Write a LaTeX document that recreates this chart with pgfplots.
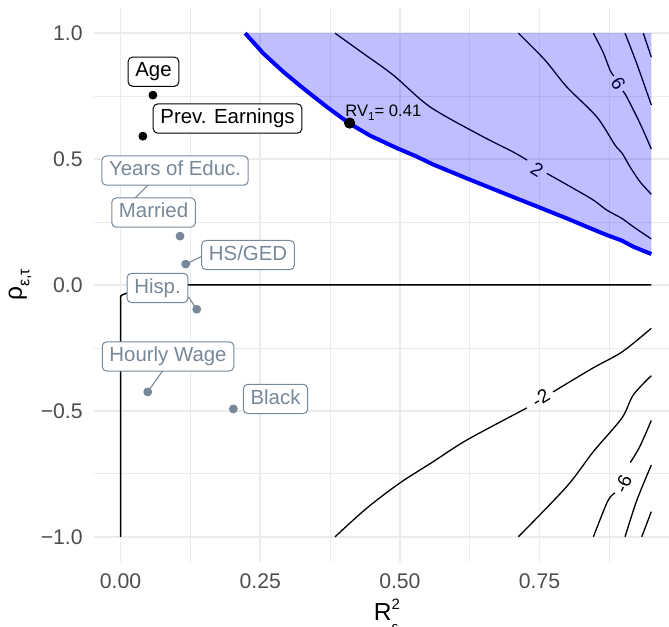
\documentclass[border=0pt]{standalone}
\usepackage{pgfplots}
\pgfplotsset{compat=1.18}
\usepackage{fontspec}
\setmainfont{Liberation Sans}
\definecolor{gridc}{RGB}{235,235,235}
\definecolor{tickc}{RGB}{77,77,77}
\definecolor{slate}{RGB}{119,136,153}
\tikzset{
  lab/.style={draw, fill=white, rounded corners=2.2bp, line width=0.5bp, inner xsep=3.6bp, inner ysep=2.5bp,
     text height=7.4bp, text depth=2.2bp, font=\fontsize{10.2bp}{12bp}\selectfont},
  blab/.style={lab, draw=black, text=black},
  glab/.style={lab, draw=slate, text=slate},
  clab/.style={font=\fontsize{9.5bp}{11bp}\selectfont, inner sep=0pt, text=black}
}
\begin{document}
\begin{tikzpicture}
\begin{axis}[
  set layers,
  at={(0,0)}, anchor=south west,
  scale only axis, width=287.5bp, height=277bp,
  xmin=-0.0475, xmax=0.9817, ymin=-1.1, ymax=1.1,
  axis line style={draw=none}, tick style={draw=none},
  xtick={0,0.25,0.5,0.75}, xticklabels={0.00,0.25,0.50,0.75},
  ytick={-1,-0.5,0,0.5,1}, yticklabels={−1.0,−0.5,0.0,0.5,1.0},
  minor xtick={0.125,0.375,0.625,0.875},
  minor ytick={-0.75,-0.25,0.25,0.75},
  grid=both,
  major grid style={draw=gridc, line width=0.8bp},
  minor grid style={draw=gridc, line width=0.4bp},
  ticklabel style={font=\fontsize{10.6bp}{12bp}\selectfont, text=tickc},
  xticklabel style={inner sep=0pt, anchor=north, yshift=-5.5bp},
  yticklabel style={inner sep=0pt, anchor=east, xshift=-5.5bp},
  xlabel={R\rlap{\raisebox{0.42em}{\fontsize{7.5bp}{8bp}\selectfont 2}}\raisebox{-0.5em}{\fontsize{7.5bp}{8bp}\selectfont ε}},
  xlabel style={at={(axis description cs:0.508,-0.1047)}, anchor=base, inner sep=0pt, font=\fontsize{12.3bp}{14bp}\selectfont},
  ylabel={ρ\raisebox{-0.3em}{\fontsize{8bp}{9bp}\selectfont ε,τ}},
  ylabel style={at={(axis description cs:-0.1287,0.5)}, anchor=center, inner sep=0pt, font=\fontsize{12.3bp}{14bp}\selectfont},
  clip=true,
  every axis plot/.append style={line join=round},
]
% positive contours
\addplot[black, line width=0.65bp, smooth, tension=0.5] coordinates {(0.3839,1.0) (0.4346,0.9194) (0.4883,0.8333) (0.5539,0.7075) (0.6434,0.5952) (0.7031,0.5278) (0.7276,0.4960)};
\addplot[black, line width=0.65bp, smooth, tension=0.5] coordinates {(0.7628,0.4433) (0.8105,0.3837) (0.8463,0.3373) (0.8702,0.2976) (0.8971,0.2647) (0.9178,0.2313) (0.95,0.183)};
\node[clab, rotate=-32] at (axis cs:0.7455,0.4563) {2};
\addplot[black, line width=0.65bp, smooth, tension=0.5] coordinates {(0.7120,1.0) (0.7598,0.8929) (0.7986,0.7869) (0.8523,0.6679) (0.8851,0.5556) (0.8976,0.5238) (0.9119,0.4694) (0.9298,0.4099) (0.95,0.360)};
\addplot[black, line width=0.65bp, smooth, tension=0.5] coordinates {(0.8463,1.0) (0.8636,0.9246) (0.8761,0.8532) (0.8830,0.830)};
\addplot[black, line width=0.65bp, smooth, tension=0.5] coordinates {(0.8990,0.770) (0.9060,0.7472) (0.9298,0.6417) (0.95,0.540)};
\node[clab, rotate=-58] at (axis cs:0.8910,0.8004) {6};
\addplot[black, line width=0.65bp, smooth, tension=0.5] coordinates {(0.9029,1.0) (0.9239,0.8796) (0.95,0.715)};
\addplot[black, line width=0.65bp] coordinates {(0.9357,1.0) (0.95,0.905)};
% negative contours
\addplot[black, line width=0.65bp, smooth, tension=0.5] coordinates {(0.3839,-1.0) (0.4407,-0.8862) (0.5003,-0.7857) (0.5599,-0.7012) (0.6202,-0.6151) (0.7274,-0.4881)};
\addplot[black, line width=0.65bp, smooth, tension=0.5] coordinates {(0.7741,-0.4246) (0.8457,-0.3294) (0.8976,-0.2659) (0.95,-0.172)};
\node[clab, rotate=31] at (axis cs:0.7521,-0.4496) {-2};
\addplot[black, line width=0.65bp, smooth, tension=0.5] coordinates {(0.7120,-1.0) (0.7986,-0.8004) (0.8463,-0.6615) (0.8971,-0.5290) (0.9178,-0.4365) (0.95,-0.360)};
\addplot[black, line width=0.65bp, smooth, tension=0.5] coordinates {(0.8463,-1.0) (0.8722,-0.8571) (0.8850,-0.826)};
\addplot[black, line width=0.65bp, smooth, tension=0.5] coordinates {(0.9125,-0.705) (0.9298,-0.640) (0.95,-0.538)};
\node[clab, rotate=66] at (axis cs:0.9000,-0.7900) {-6};
\addplot[black, line width=0.65bp, smooth, tension=0.5] coordinates {(0.9030,-1.0) (0.9239,-0.8560) (0.95,-0.715)};
\addplot[black, line width=0.65bp] coordinates {(0.9329,-1.0) (0.95,-0.900)};
% zero contour
\addplot[black, line width=0.75bp] coordinates {(0,-1.0) (0,-0.045) (0.004,-0.038) (0.012,-0.032) (0.04,0.0) (0.95,0.0)};
% shaded region
\addplot[draw=none, fill=blue, fill opacity=0.25] coordinates {(0.223,1.0) (0.2556,0.9194) (0.2914,0.8464) (0.3272,0.7806) (0.3691,0.7075) (0.4095,0.6417) (0.4466,0.5933) (0.4944,0.5437) (0.5302,0.5099) (0.5599,0.4782) (0.6197,0.4234) (0.6793,0.3702) (0.7389,0.3175) (0.7986,0.2647) (0.8344,0.2313) (0.8702,0.1984) (0.8971,0.1766) (0.9178,0.1520) (0.95,0.123) (0.95,1.0) (0.223,1.0)};
\addplot[blue, line width=2bp] coordinates {(0.223,1.0) (0.2556,0.9194) (0.2914,0.8464) (0.3272,0.7806) (0.3691,0.7075) (0.4095,0.6417) (0.4466,0.5933) (0.4944,0.5437) (0.5302,0.5099) (0.5599,0.4782) (0.6197,0.4234) (0.6793,0.3702) (0.7389,0.3175) (0.7986,0.2647) (0.8344,0.2313) (0.8702,0.1984) (0.8971,0.1766) (0.9178,0.1520) (0.95,0.123)};
% points
\addplot[only marks, mark=*, mark size=2bp, black] coordinates {(0.058,0.754) (0.040,0.591)};
\addplot[only marks, mark=*, mark size=2bp, slate, mark options={fill=slate, draw=slate}] coordinates {(0.0134,0.317) (0.1065,0.194) (0.1166,0.083) (0.1364,-0.0964) (0.0487,-0.4246) (0.2019,-0.4921)};
% segments
\addplot[slate, line width=0.55bp] coordinates {(0.0134,0.317) (0.0492,0.3968)};
\addplot[slate, line width=0.55bp] coordinates {(0.1166,0.083) (0.1441,0.1123)};
\addplot[slate, line width=0.55bp] coordinates {(0.1214,-0.0464) (0.1364,-0.0964)};
\addplot[slate, line width=0.55bp] coordinates {(0.0755,-0.3401) (0.0487,-0.4246)};
% RV point
\addplot[only marks, mark=*, mark size=2.6bp, black] coordinates {(0.41,0.643)};
% labels
\begin{pgfonlayer}{axis foreground}
\node[blab] at (axis cs:0.059,0.847) {Age};
\node[blab] at (axis cs:0.1915,0.661) {Prev. Earnings};
\node[glab] at (axis cs:0.0976,0.4544) {Years of Educ.};
\node[glab] at (axis cs:0.0591,0.2877) {Married};
\node[glab] at (axis cs:0.2282,0.1190) {HS/GED};
\node[glab] at (axis cs:0.0662,-0.0119) {Hisp.};
\node[glab] at (axis cs:0.0850,-0.2837) {Hourly Wage};
\node[glab] at (axis cs:0.2774,-0.4524) {Black};
\node[anchor=base west, inner sep=0pt, font=\fontsize{8.3bp}{10bp}\selectfont] at (axis cs:0.4018,0.6679) {RV\raisebox{-0.25em}{\fontsize{5.8bp}{7bp}\selectfont 1}= 0.41};
\end{pgfonlayer}
\end{axis}
\pgfresetboundingbox
\path[use as bounding box] (-47bp,-32.5bp) rectangle (287.5bp,281bp);
\end{tikzpicture}
\end{document}
